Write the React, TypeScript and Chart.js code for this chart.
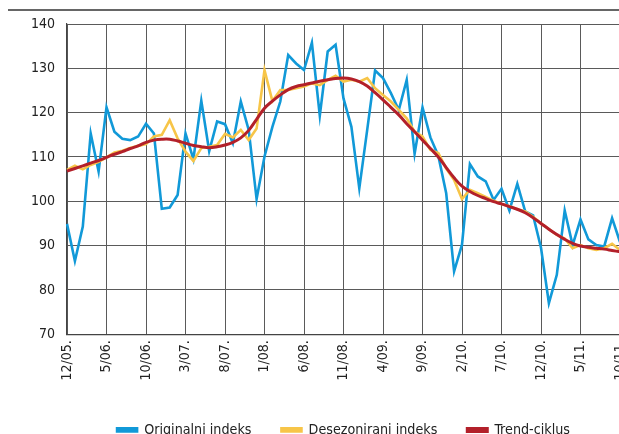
import React, { useEffect, useRef } from "react";
import { Chart, registerables } from "chart.js";

Chart.register(...registerables);

const FONT = "'Liberation Sans Narrow', 'DejaVu Sans Condensed', 'Arial Narrow', sans-serif";

const months = [
  "12/05.",
  "1/06.", "2/06.", "3/06.", "4/06.", "5/06.", "6/06.", "7/06.", "8/06.", "9/06.", "10/06.", "11/06.", "12/06.",
  "1/07.", "2/07.", "3/07.", "4/07.", "5/07.", "6/07.", "7/07.", "8/07.", "9/07.", "10/07.", "11/07.", "12/07.",
  "1/08.", "2/08.", "3/08.", "4/08.", "5/08.", "6/08.", "7/08.", "8/08.", "9/08.", "10/08.", "11/08.", "12/08.",
  "1/09.", "2/09.", "3/09.", "4/09.", "5/09.", "6/09.", "7/09.", "8/09.", "9/09.", "10/09.", "11/09.", "12/09.",
  "1/10.", "2/10.", "3/10.", "4/10.", "5/10.", "6/10.", "7/10.", "8/10.", "9/10.", "10/10.", "11/10.", "12/10.",
  "1/11.", "2/11.", "3/11.", "4/11.", "5/11.", "6/11.", "7/11.", "8/11.", "9/11.", "10/11.",
];

const originalni = [
  94.9, 86.5, 94.3, 115.3, 106.7, 121.2, 115.7, 114.1, 113.8, 114.6, 117.5, 115.3,
  98.3, 98.6, 101.4, 115.3, 109.5, 122.7, 111.3, 118.0, 117.4, 113.1, 122.5, 116.1,
  100.5, 110.1, 116.8, 122.5, 133.0, 131.1, 129.6, 135.8, 119.3, 133.8, 135.3, 123.2,
  116.8, 102.9, 116.1, 129.5, 127.8, 124.4, 120.6, 127.4, 110.7, 121.2, 114.4, 110.3,
  101.8, 84.2, 90.2, 108.4, 105.6, 104.5, 100.3, 102.8, 97.9, 103.9, 97.7, 96.8,
  89.5, 77.0, 83.4, 97.9, 90.1, 95.9, 91.4, 90.1, 89.8, 96.2, 90.8,
];

const desezonirani = [
  107.1, 108.0, 107.2, 108.2, 108.9, 109.9, 111.0, 111.4, 112.0, 112.5, 112.9, 114.6,
  115.0, 118.3, 114.2, 111.2, 109.1, 112.0, 112.3, 112.7, 115.2, 114.4, 116.1, 113.8,
  116.4, 129.6, 122.6, 125.1, 125.1, 125.5, 125.9, 126.6, 126.2, 127.4, 128.3, 127.0,
  127.4, 127.0, 127.8, 125.5, 124.0, 122.5, 120.6, 118.7, 115.7, 114.6, 111.6, 110.9,
  107.4, 104.8, 100.5, 102.6, 101.8, 101.0, 100.1, 99.4, 98.9, 98.2, 97.7, 96.5,
  95.0, 93.7, 92.4, 91.6, 89.4, 90.1, 89.4, 89.0, 89.4, 90.4, 89.0,
];

const trend = [
  106.8, 107.4, 108.0, 108.6, 109.2, 109.9, 110.6, 111.2, 111.9, 112.5, 113.3, 113.8,
  114.0, 114.0, 113.6, 113.1, 112.6, 112.3, 112.1, 112.3, 112.7, 113.3, 114.3, 116.0,
  118.5, 121.0, 122.6, 124.0, 125.2, 125.9, 126.3, 126.7, 127.1, 127.4, 127.7, 127.8,
  127.6, 127.0, 126.0, 124.5, 122.9, 121.2, 119.5, 117.5, 115.7, 113.8, 111.9, 110.0,
  107.6, 105.3, 103.4, 102.2, 101.3, 100.6, 99.9, 99.4, 98.8, 98.2, 97.4, 96.3,
  95.0, 93.7, 92.5, 91.4, 90.5, 89.9, 89.6, 89.4, 89.2, 88.9, 88.6,
];

const seriesNames = ["Originalni indeks", "Desezonirani indeks", "Trend-ciklus"];
const yTicks = { min: 70, max: 140, step: 10 };

const BLUE = "#1199d8";
const YELLOW = "#f7c548";
const RED = "#b3202a";

export default function App() {
  const ref = useRef<HTMLCanvasElement>(null);

  useEffect(() => {
    if (!ref.current) return;
    const topLine = {
      id: "topLine",
      afterDraw(chart: any) {
        const ctx = chart.ctx;
        ctx.save();
        ctx.strokeStyle = "#333";
        ctx.lineWidth = 1.3;
        ctx.beginPath();
        ctx.moveTo(0, 2);
        ctx.lineTo(chart.width, 2);
        ctx.stroke();
        ctx.restore();
      },
    };
    const chart = new Chart(ref.current, {
      type: "line",
      data: {
        labels: months,
        datasets: [
          {
            label: seriesNames[0],
            data: originalni,
            borderColor: BLUE,
            backgroundColor: BLUE,
            borderWidth: 2.6,
            pointRadius: 0,
            tension: 0,
            order: 2,
          },
          {
            label: seriesNames[1],
            data: desezonirani,
            borderColor: YELLOW,
            backgroundColor: YELLOW,
            borderWidth: 2.6,
            pointRadius: 0,
            tension: 0,
            order: 1,
          },
          {
            label: seriesNames[2],
            data: trend,
            borderColor: RED,
            backgroundColor: RED,
            borderWidth: 3,
            pointRadius: 0,
            tension: 0.4,
            order: 0,
          },
        ],
      },
      options: {
        responsive: false,
        animation: false,
        devicePixelRatio: 1,
        layout: { padding: { top: 16, right: 28, left: 0, bottom: 0 } },
        scales: {
          x: {
            type: "category",
            offset: false,
            grid: { color: "#5a5a5a", lineWidth: 1, drawTicks: false },
            border: { color: "#444", width: 1.2 },
            ticks: {
              autoSkip: false,
              minRotation: 90,
              maxRotation: 90,
              padding: 6,
              color: "#222",
              font: { family: FONT, size: 14 },
              callback: (_v: any, i: number) => (i % 5 === 0 ? months[i] : null),
            },
            afterFit: (s: any) => {
              s.height = 58.6;
              s.paddingLeft = 0;
              s.paddingRight = 0;
            },
          },
          y: {
            min: yTicks.min,
            max: yTicks.max,
            grid: { color: "#5a5a5a", lineWidth: 1, drawTicks: false },
            border: { color: "#444", width: 1.2 },
            ticks: {
              stepSize: yTicks.step,
              padding: 12,
              color: "#222",
              font: { family: FONT, size: 14 },
            },
            afterFit: (s: any) => {
              s.width = 59;
              s.paddingTop = 0;
              s.paddingBottom = 0;
            },
          },
        },
        plugins: {
          legend: {
            position: "bottom",
            fullSize: false,
            labels: {
              boxWidth: 20,
              boxHeight: 3,
              padding: 30,
              color: "#222",
              font: { family: FONT, size: 14.2 },
              sort: (a: any, b: any) => a.datasetIndex - b.datasetIndex,
            },
          },
          tooltip: { enabled: false },
        },
      },
      plugins: [topLine],
    });
    return () => chart.destroy();
  }, []);

  return (
    <div
      style={{
        position: "absolute",
        left: 8,
        top: 8,
        width: 611,
        height: 426,
        overflow: "hidden",
      }}
    >
      <canvas
        ref={ref}
        width={640}
        height={439}
        style={{ width: 640, height: 439, display: "block" }}
      />
    </div>
  );
}
